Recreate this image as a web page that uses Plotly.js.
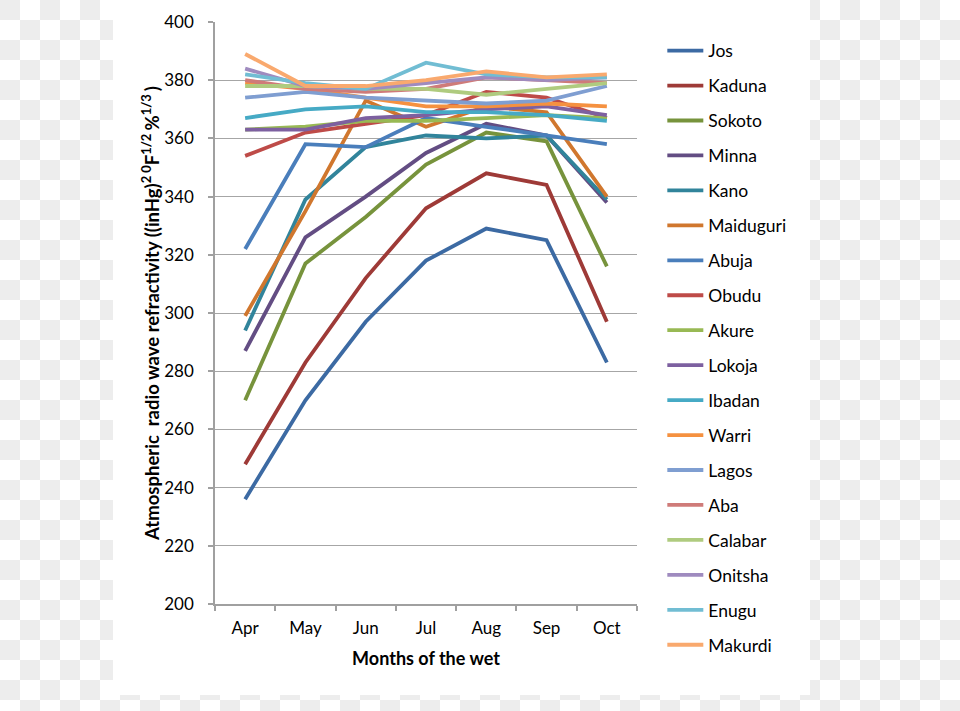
<!DOCTYPE html>
<html>
<head>
<meta charset="utf-8">
<script src="https://cdn.plot.ly/plotly-3.0.1.min.js"></script>
<style>
html, body { margin: 0; padding: 0; }
body {
  width: 960px; height: 711px; overflow: hidden;
  background-color: #ffffff;
  background-image:
    linear-gradient(45deg, #ededed 25%, transparent 25%, transparent 75%, #ededed 75%),
    linear-gradient(45deg, #ededed 25%, transparent 25%, transparent 75%, #ededed 75%);
  background-size: 40px 40px;
  background-position: 20px 0, 0 20px;
}
#chart { width: 960px; height: 711px; }
</style>
</head>
<body>
<div id="chart"></div>
<script>
const months = ["Apr", "May", "Jun", "Jul", "Aug", "Sep", "Oct"];
const cities = ["Jos", "Kaduna", "Sokoto", "Minna", "Kano", "Maiduguri", "Abuja", "Obudu", "Akure",
                "Lokoja", "Ibadan", "Warri", "Lagos", "Aba", "Calabar", "Onitsha", "Enugu", "Makurdi"];

const jos       = [236, 270, 297, 318, 329, 325, 283];
const kaduna    = [248, 283, 312, 336, 348, 344, 297];
const sokoto    = [270, 317, 333, 351, 362, 359, 316];
const minna     = [287, 326, 340, 355, 365, 361, 338];
const kano      = [294, 339, 357, 361, 360, 361, 339];
const maiduguri = [299, 335, 373, 364, 371, 369, 340];
const abuja     = [322, 358, 357, 367, 364, 361, 358];
const obudu     = [354, 362, 365, 368, 376, 374, 367];
const akure     = [363, 364, 366, 366, 367, 368, 367];
const lokoja    = [363, 363, 367, 368, 370, 371, 368];
const ibadan    = [367, 370, 371, 369, 369, 368, 366];
const warri     = [379, 377, 374, 371, 371, 372, 371];
const lagos     = [374, 376, 374, 373, 372, 373, 378];
const aba       = [380, 377, 376, 377, 381, 380, 379];
const calabar   = [378, 378, 377, 377, 375, 377, 379];
const onitsha   = [384, 378, 377, 379, 381, 380, 381];
const enugu     = [382, 379, 377, 386, 382, 381, 381];
const makurdi   = [389, 378, 378, 380, 383, 381, 382];

const series = [jos, kaduna, sokoto, minna, kano, maiduguri, abuja, obudu, akure,
                lokoja, ibadan, warri, lagos, aba, calabar, onitsha, enugu, makurdi];
const colors = ["#3C6AA3", "#9E3A37", "#77933C", "#634D83", "#31849B", "#D0772E",
                "#4A7EBB", "#BE4B48", "#98B954", "#7D60A0", "#46AAC5", "#F59140",
                "#7F9ED1", "#CF7B79", "#AFCB7F", "#9F8BBF", "#71BDD3", "#F9A96E"];

const font = "Lato, 'Liberation Sans', sans-serif";

const traces = cities.map((c, i) => ({
  type: "scatter",
  mode: "lines",
  name: c,
  legendgroup: c,
  x: months,
  y: series[i],
  line: { color: colors[i], width: 3.8 },
  hoverinfo: "name+y"
}));

const layout = {
  width: 960, height: 711,
  margin: { l: 215, r: 323, t: 22, b: 107 },
  paper_bgcolor: "rgba(0,0,0,0)",
  plot_bgcolor: "#ffffff",
  font: { family: font, size: 17, color: "#000000" },
  showlegend: true,
  legend: {
    x: 1.06, xanchor: "left",
    y: 0.9816, yanchor: "top",
    traceorder: "grouped",
    tracegroupgap: 9.2,
    maxheight: 700,
    itemwidth: 36,
    font: { family: font, size: 17.5, color: "#000000" },
    bgcolor: "rgba(0,0,0,0)"
  },
  xaxis: {
    type: "category",
    range: [-0.5, 6.5],
    showgrid: false,
    zeroline: false,
    showline: true, linecolor: "#A0A0A0", linewidth: 1.5,
    ticks: "outside", tickson: "boundaries", ticklen: 5, tickcolor: "#A0A0A0", tickwidth: 1.5,
    ticklabelstandoff: 8,
    tickfont: { family: font, size: 17, color: "#000" },
    title: { text: "<b>Months of the wet</b>", font: { family: font, size: 18, color: "#000" }, standoff: 15 }
  },
  yaxis: {
    range: [200, 400],
    dtick: 20,
    showgrid: true, gridcolor: "#A6A6A6", gridwidth: 1.4,
    zeroline: false,
    showline: true, linecolor: "#A0A0A0", linewidth: 1.5,
    ticks: "outside", ticklen: 5, tickcolor: "#A0A0A0", tickwidth: 1.5,
    ticklabelstandoff: 11,
    tickfont: { family: font, size: 17, color: "#000" },
    title: {
      text: "<b>Atmospheric  radio wave refractivity ((inHg)<sup>2 0</sup>F<sup>1/2 </sup>%<sup>1/3 </sup>)</b>",
      font: { family: font, size: 18.5, color: "#000" },
      standoff: 0
    }
  },
  shapes: [{
    type: "rect", xref: "paper", yref: "paper", layer: "below",
    x0: (113 - 215) / 422, x1: (810 - 215) / 422,
    y0: (604 - 695) / 582, y1: 1 + 22 / 582,
    fillcolor: "#ffffff", line: { width: 0 }
  }]
};

Plotly.newPlot("chart", traces, layout, { displayModeBar: false, responsive: false });
</script>
</body>
</html>
